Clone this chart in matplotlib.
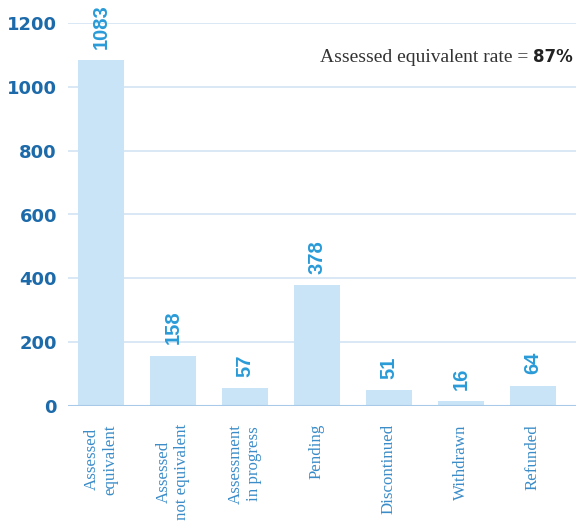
import matplotlib
matplotlib.use("Agg")
import matplotlib.pyplot as plt

categories = ["Assessed\nequivalent", "Assessed\nnot equivalent", "Assessment\nin progress",
              "Pending", "Discontinued", "Withdrawn", "Refunded"]
counts = [1083, 158, 57, 378, 51, 16, 64]
y_ticks = [0, 200, 400, 600, 800, 1000, 1200]
rate_text = "Assessed equivalent rate = "
rate_value = "87%"

BAR = "#c9e4f6"
GRID = "#d3e3f2"
AXIS = "#a9c9e8"
TICK = "#1c6aa9"
VALUE = "#2a9bd8"
CAT = "#3a8cc8"

fig = plt.figure(figsize=(5.76, 5.23), dpi=100)
ax = fig.add_axes([68 / 576, 117 / 523, 1 - 68 / 576, (406 - 23) / 523])

x = list(range(len(categories)))
bars = ax.bar(x, counts, width=0.64, color=BAR, zorder=2)

ax.set_ylim(0, 1200)
ax.set_xlim(-0.458, 6.597)
ax.set_yticks(y_ticks)
ax.set_yticklabels([str(v) for v in y_ticks], fontsize=13, fontweight="bold",
                   color=TICK, family="DejaVu Sans")
ax.tick_params(axis="y", length=0, pad=8)
ax.tick_params(axis="x", length=0, pad=13)
for v in y_ticks[1:]:
    ax.axhline(v, color=GRID, lw=1.2, zorder=1)
ax.axhline(0, color=AXIS, lw=1.5, zorder=3)

for s in ax.spines.values():
    s.set_visible(False)

ax.set_xticks(x)
ax.set_xticklabels(categories, rotation=90, fontsize=12.2, color=CAT,
                   family="Liberation Serif", ha="center", va="top",
                   multialignment="center")

for rect, v in zip(bars, counts):
    ax.annotate(str(v), (rect.get_x() + rect.get_width() / 2, v),
                xytext=(0, 8), textcoords="offset points", rotation=90,
                ha="center", va="bottom", fontsize=14.5, color=VALUE,
                family="Liberation Sans", fontweight="bold",
                clip_on=False, annotation_clip=False)

t = fig.text(573 / 576, 1 - 57 / 523, rate_value, ha="right", va="center",
             fontsize=12, fontweight="bold", family="DejaVu Sans", color="#222222")
fig.canvas.draw()
bb = t.get_window_extent()
fig.text(bb.x0 / fig.bbox.width, 1 - 57 / 523, rate_text, ha="right", va="center",
         fontsize=14, family="Liberation Serif", color="#333333")

fig.savefig("out.png", dpi=100)
